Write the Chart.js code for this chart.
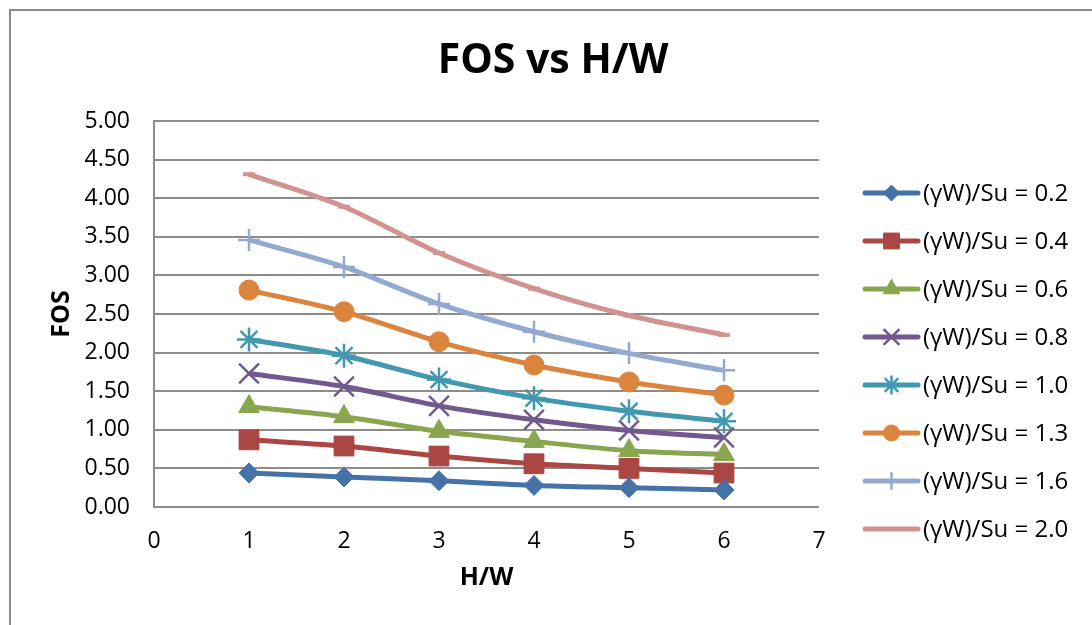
<!DOCTYPE html>
<html>
<head>
<meta charset="utf-8">
<script src="https://cdn.jsdelivr.net/npm/chart.js@4.4.1/dist/chart.umd.min.js"></script>
<style>
  html, body { margin: 0; padding: 0; background: #ffffff; }
  #wrap { position: relative; width: 1092px; height: 625px; overflow: hidden; }
  #frame { position: absolute; left: 9px; top: 9px; width: 1200px; height: 700px;
           border-left: 2px solid #8a8a8a; border-top: 2px solid #8a8a8a; }
  canvas { position: absolute; left: 0; top: 0; }
</style>
</head>
<body>
<div id="wrap">
  <div id="frame"></div>
  <canvas id="fos" width="1092" height="625"></canvas>
</div>
<script>
// H/W ratios on the x axis
const hwRatio = [1, 2, 3, 4, 5, 6];

// Factor of safety for each (γW)/Su value
const fos02 = [0.44, 0.39, 0.34, 0.28, 0.25, 0.22];
const fos04 = [0.87, 0.79, 0.66, 0.56, 0.50, 0.44];
const fos06 = [1.30, 1.17, 0.98, 0.85, 0.73, 0.68];
const fos08 = [1.73, 1.56, 1.31, 1.13, 0.99, 0.90];
const fos10 = [2.17, 1.96, 1.65, 1.41, 1.24, 1.11];
const fos13 = [2.81, 2.53, 2.14, 1.84, 1.62, 1.45];
const fos16 = [3.46, 3.11, 2.63, 2.27, 1.99, 1.77];
const fos20 = [4.31, 3.89, 3.29, 2.83, 2.48, 2.23];

const seriesLabels = [
  '(γW)/Su = 0.2', '(γW)/Su = 0.4', '(γW)/Su = 0.6', '(γW)/Su = 0.8',
  '(γW)/Su = 1.0', '(γW)/Su = 1.3', '(γW)/Su = 1.6', '(γW)/Su = 2.0'
];
const seriesValues = [fos02, fos04, fos06, fos08, fos10, fos13, fos16, fos20];

const chartTitle = 'FOS vs H/W';

const FONT = "'Open Sans', 'Noto Sans', sans-serif";

// line colour, marker shape, marker radius, marker stroke width
const styles = [
  { color: '#4572A7', point: 'rectRot',  r: 10, bw: 1 },
  { color: '#AA4643', point: 'rect',     r: 14, bw: 1 },
  { color: '#89A54E', point: 'triangle', r: 12, bw: 1 },
  { color: '#71588F', point: 'crossRot', r: 14, bw: 2.5 },
  { color: '#4198AF', point: 'star',     r: 12, bw: 2.5 },
  { color: '#DB843D', point: 'circle',   r: 10, bw: 1 },
  { color: '#93A9CF', point: 'cross',    r: 11, bw: 2.5 },
  { color: '#D19392', point: 'line',     r: 6,  bw: 4 }
];

const datasets = seriesValues.map((vals, i) => ({
  label: seriesLabels[i],
  data: vals.map((v, k) => ({ x: hwRatio[k], y: v })),
  borderColor: styles[i].color,
  backgroundColor: styles[i].color,
  borderWidth: 5,
  tension: 0.3,
  pointStyle: styles[i].point,
  pointRadius: styles[i].r,
  pointBorderWidth: styles[i].bw,
  pointBorderColor: styles[i].color,
  pointBackgroundColor: styles[i].color,
  fill: false
}));

// Chart heading, centred across the whole figure
const heading = {
  id: 'heading',
  afterDraw(chart) {
    const ctx = chart.ctx;
    ctx.save();
    ctx.fillStyle = '#000000';
    ctx.font = "bold 41px " + FONT;
    ctx.textAlign = 'center';
    ctx.textBaseline = 'middle';
    ctx.fillText(chartTitle, 553, 61);
    ctx.restore();
  }
};

// Right-hand legend: line sample with the series marker, then the label
const sideLegend = {
  id: 'sideLegend',
  afterDraw(chart) {
    const ctx = chart.ctx;
    const x0 = 865, x1 = 918, top = 193, step = 48;
    ctx.save();
    chart.data.datasets.forEach((ds, i) => {
      const y = top + i * step;
      ctx.strokeStyle = ds.borderColor;
      ctx.lineWidth = 5;
      ctx.lineCap = 'round';
      ctx.beginPath();
      ctx.moveTo(x0, y);
      ctx.lineTo(x1, y);
      ctx.stroke();
      ctx.lineCap = 'butt';
      ctx.fillStyle = ds.pointBackgroundColor;
      ctx.strokeStyle = ds.pointBorderColor;
      ctx.lineWidth = ds.pointBorderWidth;
      Chart.helpers.drawPoint(ctx, {
        pointStyle: ds.pointStyle,
        radius: ds.pointRadius * 0.8,
        rotation: 0,
        borderWidth: ds.pointBorderWidth
      }, (x0 + x1) / 2, y);
      ctx.fillStyle = '#000000';
      ctx.font = "24px " + FONT;
      ctx.textAlign = 'left';
      ctx.textBaseline = 'middle';
      ctx.fillText(ds.label, 923, y + 1);
    });
    ctx.restore();
  }
};

new Chart(document.getElementById('fos'), {
  type: 'line',
  data: { datasets },
  plugins: [heading, sideLegend],
  options: {
    responsive: false,
    animation: false,
    layout: { padding: { left: 40, right: 273, top: 121, bottom: 0 } },
    plugins: {
      legend: { display: false },
      tooltip: { enabled: false },
      title: { display: false }
    },
    scales: {
      x: {
        type: 'linear',
        min: 0,
        max: 7,
        afterFit(scale) { scale.height = 118; },
        ticks: {
          stepSize: 1,
          padding: 21,
          color: '#000000',
          font: { family: FONT, size: 23 }
        },
        grid: { display: false, drawTicks: false },
        border: { display: false },
        title: {
          display: true,
          text: 'H/W',
          color: '#000000',
          font: { family: FONT, size: 25, weight: 'bold' },
          padding: { top: 0, bottom: 32 }
        }
      },
      y: {
        min: 0,
        max: 5,
        afterFit(scale) { scale.width = 114; },
        ticks: {
          stepSize: 0.5,
          padding: 24,
          color: '#000000',
          font: { family: FONT, size: 23 },
          callback: (v) => Number(v).toFixed(2)
        },
        grid: { color: '#8c8c8c', lineWidth: 2, drawTicks: false },
        border: { display: true, color: '#8c8c8c', width: 2 },
        title: {
          display: true,
          text: 'FOS',
          color: '#000000',
          font: { family: FONT, size: 25, weight: 'bold' },
          padding: { top: 7, bottom: 0 }
        }
      }
    }
  }
});
</script>
</body>
</html>
